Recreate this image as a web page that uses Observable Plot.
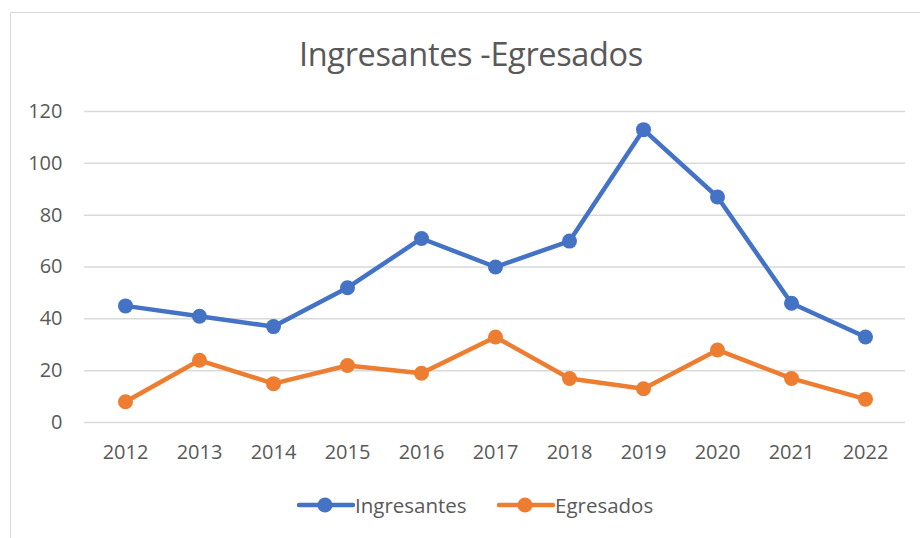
<!DOCTYPE html>
<html>
<head>
<meta charset="utf-8">
<script src="https://cdn.jsdelivr.net/npm/d3@7"></script>
<script src="https://cdn.jsdelivr.net/npm/@observablehq/plot@0.6"></script>
<style>
  html, body { margin: 0; padding: 0; background: #fff; }
  #wrap { position: relative; width: 920px; height: 538px; overflow: hidden; font-family: "Open Sans", sans-serif; color: #595959; }
  #frame { position: absolute; left: 10px; top: 12px; width: 960px; height: 600px; border: 1.5px solid #d9d9d9; box-sizing: border-box; }
  #title { position: absolute; left: 10px; width: 922px; top: 34px; text-align: center; font-size: 32.5px; font-weight: 400; letter-spacing: -0.35px; color: #595959; line-height: 1.2; }
  #chart { position: absolute; left: 0; top: 90px; }
  #legend { position: absolute; top: 490px; left: 0; width: 920px; height: 30px; }
  .item { position: absolute; top: 0; display: flex; align-items: center; font-size: 20.5px; color: #595959; }
  .item svg { display: block; }
</style>
</head>
<body>
<div id="wrap">
  <div id="frame"></div>
  <div id="title">Ingresantes -Egresados</div>
  <div id="chart"></div>
  <div id="legend"></div>
</div>
<script>
const years = ["2012","2013","2014","2015","2016","2017","2018","2019","2020","2021","2022"];
const ingresantes = [45, 41, 37, 52, 71, 60, 70, 113, 87, 46, 33];
const egresados = [8, 24, 15, 22, 19, 33, 17, 13, 28, 17, 9];
const seriesNames = ["Ingresantes", "Egresados"];
const seriesColors = ["#4472C4", "#ED7D31"];
const yTicks = [0, 20, 40, 60, 80, 100, 120];

const data = [
  ...years.map((y, i) => ({year: y, value: ingresantes[i], series: seriesNames[0]})),
  ...years.map((y, i) => ({year: y, value: egresados[i], series: seriesNames[1]}))
];

const chart = Plot.plot({
  width: 920,
  height: 390,
  marginTop: 21,
  marginBottom: 58,
  marginLeft: 84,
  marginRight: 15,
  style: {fontFamily: "Open Sans, sans-serif", fontSize: "20px", color: "#595959", background: "transparent"},
  x: {type: "point", domain: years, padding: 0.5, label: null},
  y: {domain: [0, 120], label: null},
  color: {domain: seriesNames, range: seriesColors},
  marks: [
    Plot.gridY(yTicks, {stroke: "#d9d9d9", strokeOpacity: 1, strokeWidth: 1.5}),
    Plot.axisY(yTicks, {tickSize: 0, tickPadding: 22, label: null, fill: "#595959", fontSize: 20}),
    Plot.axisX({tickSize: 0, tickPadding: 22, label: null, fill: "#595959", fontSize: 20}),
    Plot.line(data, {x: "year", y: "value", z: "series", stroke: "series", strokeWidth: 4.5, strokeLinejoin: "round", strokeLinecap: "round"}),
    Plot.dot(data, {x: "year", y: "value", fill: "series", r: 7.5, stroke: "none"})
  ]
});
document.getElementById("chart").appendChild(chart);

// legend
const legend = document.getElementById("legend");
const lefts = [297, 497];
seriesNames.forEach((name, i) => {
  const item = document.createElement("div");
  item.className = "item";
  item.style.left = lefts[i] + "px";
  item.innerHTML = `<svg width="58" height="30"><line x1="2" y1="15" x2="56" y2="15" stroke="${seriesColors[i]}" stroke-width="4.5" stroke-linecap="round"/><circle cx="28" cy="15" r="7.5" fill="${seriesColors[i]}"/></svg><span>${name}</span>`;
  legend.appendChild(item);
});
</script>
</body>
</html>
